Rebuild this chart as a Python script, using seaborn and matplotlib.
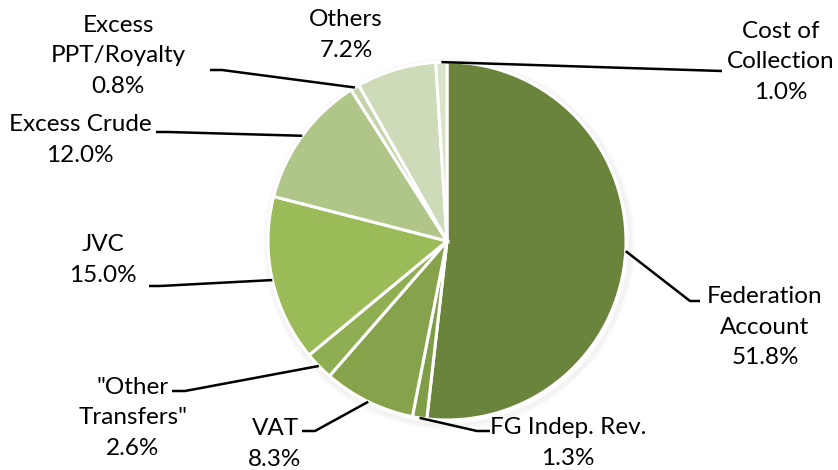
import numpy as np
import matplotlib
matplotlib.use("Agg")
import matplotlib.pyplot as plt
import seaborn as sns
from matplotlib.patches import Circle

# ---- data ----
categories = ["Federation\nAccount", "FG Indep. Rev.", "VAT", "\"Other\nTransfers\"",
              "JVC", "Excess Crude", "Excess\nPPT/Royalty", "Others", "Cost of\nCollection"]
values = [51.8, 1.3, 8.3, 2.6, 15.0, 12.0, 0.8, 7.2, 1.0]
colors = ["#6B843B", "#7F9C47", "#86A34C", "#8FAE52", "#9BBB59",
          "#AFC688", "#C3D5A8", "#CDDBB8", "#D8E3C8"]

sns.set_theme(style="white")
plt.rcParams["font.family"] = ["Lato", "DejaVu Sans"]

W, H = 838, 470
fig = plt.figure(figsize=(W / 100, H / 100), dpi=100)
ax = fig.add_axes([0, 0, 1, 1])

cx, cy, R = 447, H - 241, 179

# soft shadow
for i, a in enumerate([0.05, 0.04, 0.03, 0.02]):
    ax.add_patch(Circle((cx + 2, cy - 3), R + 1 + i * 1.5, facecolor="none",
                        edgecolor="#808080", lw=2.5, alpha=a, zorder=0))

wedges, _ = ax.pie(values, colors=colors, startangle=90, counterclock=False,
                   center=(cx, cy), radius=R,
                   wedgeprops=dict(edgecolor="white", linewidth=2.2))

# label geometry (pixel coords, y from top): elbow, line end, text block center
layout = [
    ((690, 301), (700, 301), 765, 327),
    ((477, 431), (490, 431), 568, 443),
    ((315, 431), (302, 431), 275, 444),
    ((185, 391), (172, 391), 133, 418),
    ((160, 286), (149, 286), 103, 260),
    ((168, 132), (156, 132), 80, 140),
    ((222, 70), (210, 70), 118, 56),
    (None, None, 346, 35),
    ((722, 71), (722, 71), 781, 62),
]

fs = 17.5
for w, cat, val, (elbow, end, tx, ty) in zip(wedges, categories, values, layout):
    label = f"{cat}\n{val:.1f}%"
    if elbow is not None:
        ang = np.deg2rad((w.theta1 + w.theta2) / 2)
        ex, ey = cx + R * np.cos(ang), cy + R * np.sin(ang)
        ax.plot([ex, elbow[0], end[0]], [ey, H - elbow[1], H - end[1]],
                color="black", lw=1.8, solid_capstyle="butt", zorder=5)
    ax.text(tx, H - ty, label, ha="center", va="center", fontsize=fs,
            linespacing=1.58, color="black", zorder=6)

ax.set_xlim(0, W)
ax.set_ylim(0, H)
ax.set_aspect("auto")
ax.axis("off")

fig.savefig("out.png", dpi=100, facecolor="white")
